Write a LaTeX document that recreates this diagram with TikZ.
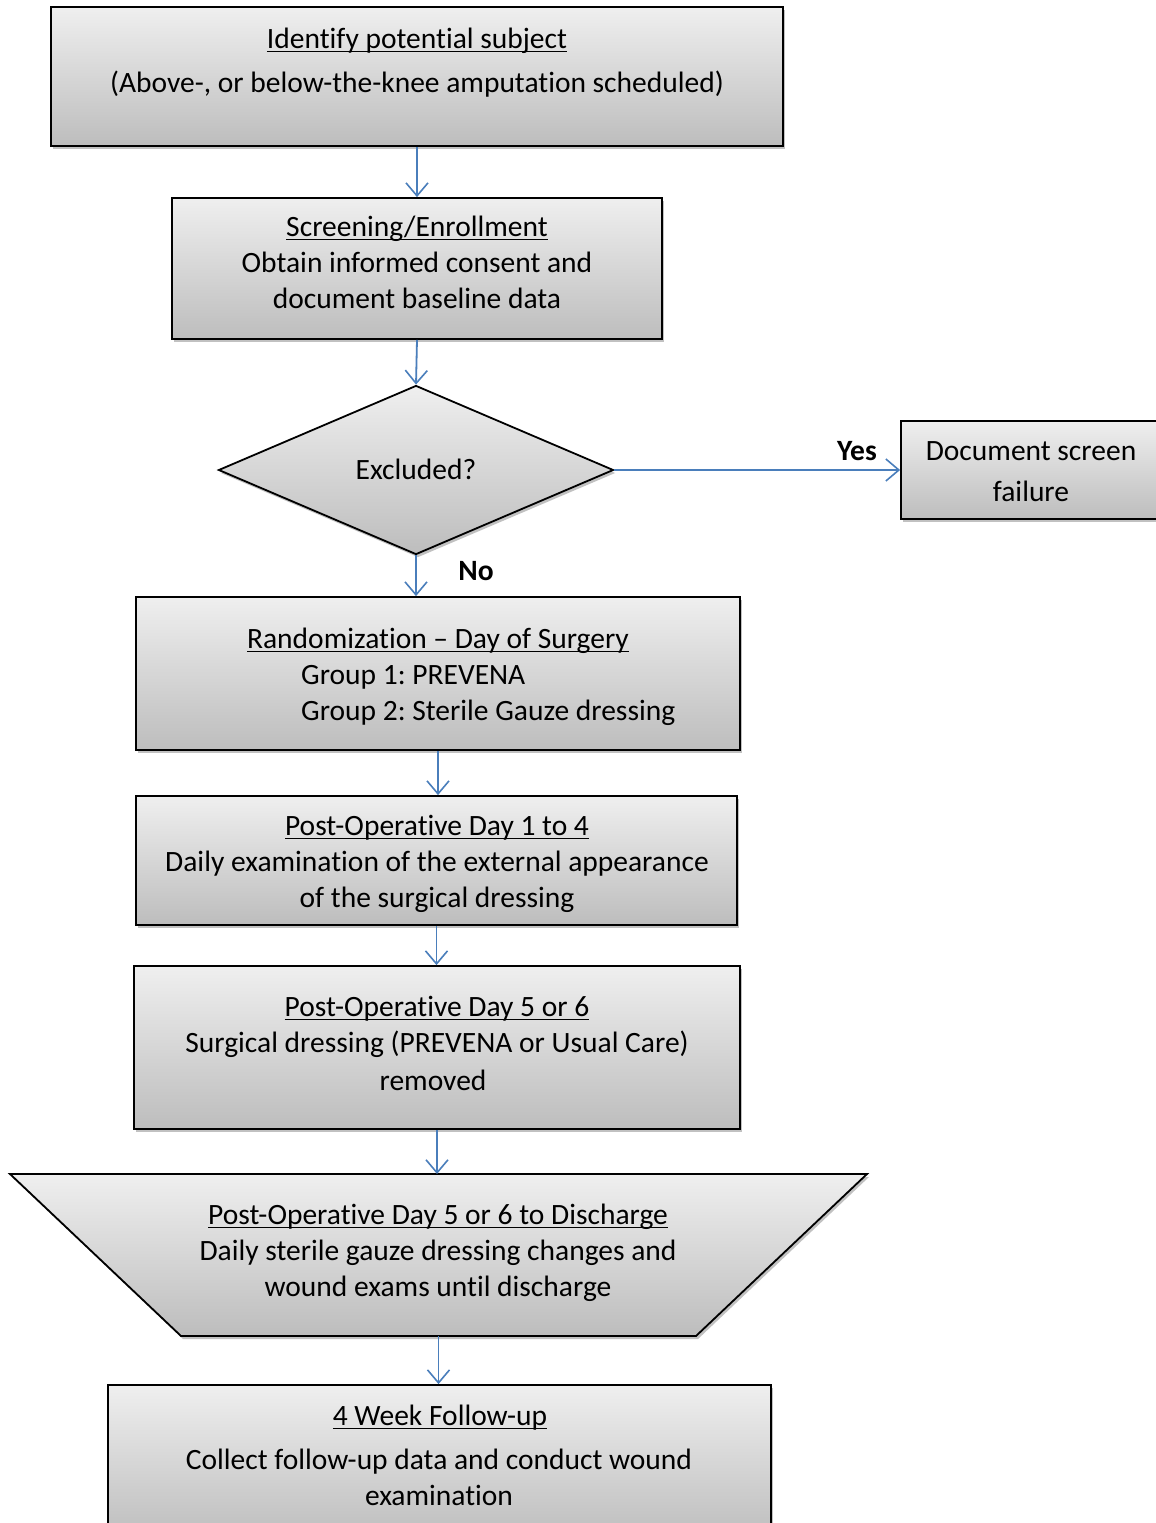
\documentclass[tikz,border=0pt]{standalone}
\usepackage{fontspec}
\setmainfont{Carlito}[Ligatures={NoCommon}]
\usetikzlibrary{shapes.geometric,arrows.meta,shadows}
\definecolor{arrowblue}{HTML}{4A7EBB}
\definecolor{shtop}{HTML}{EFEFEF}
\definecolor{shbot}{HTML}{BDBDBD}
\newcommand\myul[1]{\setbox0\hbox{#1}\rlap{\rule[-4pt]{\wd0}{1.4pt}}\box0}
\frenchspacing
\begin{document}
\begin{tikzpicture}[x=1pt,y=-1pt,
  boxshape/.style={draw=black, line width=1.8pt, top color=shtop, bottom color=shbot,
    drop shadow={shadow xshift=2pt,shadow yshift=-3pt,opacity=0.4,fill=black!60},
    inner sep=0pt, rectangle},
  txt/.style={font=\fontsize{29.5}{35}\selectfont, anchor=base, inner sep=0pt},
  txtl/.style={txt, anchor=base west},
  lbl/.style={font=\fontsize{29.5}{35}\selectfont\bfseries, inner sep=0pt},
  conn/.style={draw=arrowblue, line width=1.8pt, -{Straight Barb[length=13pt,width=22pt,line width=1.6pt]}},
  connthin/.style={conn, line width=1.5pt}]
\useasboundingbox (0,0) rectangle (1156,1523);
\fill[white] (0,0) rectangle (1156,1523);

% boxes
\node[boxshape, minimum width=732, minimum height=139] (b1) at (417,76.5) {};
\node[boxshape, minimum width=490, minimum height=141] (b2) at (417,268.5) {};
\node[boxshape, shape=diamond, minimum width=395, minimum height=169, aspect=2.34] (dia) at (416,470) {};
\node[boxshape, minimum width=260, minimum height=98] (b3) at (1031,470) {};
\node[boxshape, minimum width=604, minimum height=153] (b4) at (438,673.5) {};
\node[boxshape, minimum width=601, minimum height=129] (b5) at (436.5,860.5) {};
\node[boxshape, minimum width=606, minimum height=163] (b6) at (437,1047.5) {};
\path[draw=black, line width=1.8pt, top color=shtop, bottom color=shbot,
    drop shadow={shadow xshift=2pt,shadow yshift=-3pt,opacity=0.4,fill=black!60}]
  (10,1174) -- (867,1174) -- (696,1336) -- (181,1336) -- cycle;
\coordinate (trapN) at (438.5,1174);
\coordinate (trapS) at (438.5,1336);
\node[boxshape, minimum width=663, minimum height=155] (b7) at (439.5,1462.5) {};

% texts
\node[txt] (t1a) at (417,48) {\myul{Identify potential subject}};
\node[txt] (t1b) at (417,92) {(Above-, or below-the-knee amputation scheduled)};
\node[txt] (t2a) at (417,236) {\myul{Screening/Enrollment}};
\node[txt] (t2b) at (417,272) {Obtain informed consent and};
\node[txt] (t2c) at (417,308) {document baseline data};
\node[txt] (td) at (416,479) {Excluded?};
\node[txt] (t3a) at (1031,460) {Document screen};
\node[txt] (t3b) at (1031,501) {failure};
\node[txt] (t4a) at (438,648) {\myul{Randomization – Day of Surgery}};
\node[txtl] (t4b) at (301,684) {Group 1: PREVENA};
\node[txtl] (t4c) at (301,720) {Group 2: Sterile Gauze dressing};
\node[txt] (t5a) at (437,835) {\myul{Post-Operative Day 1 to 4}};
\node[txt] (t5b) at (437,871) {Daily examination of the external appearance};
\node[txt] (t5c) at (437,907) {of the surgical dressing};
\node[txt] (t6a) at (437,1016) {\myul{Post-Operative Day 5 or 6}};
\node[txt] (t6b) at (437,1052) {Surgical dressing (PREVENA or Usual Care)};
\node[txt] (t6c) at (433,1090) {removed};
\node[txt] (t7a) at (438,1224) {\myul{Post-Operative Day 5 or 6 to Discharge}};
\node[txt] (t7b) at (438,1260) {Daily sterile gauze dressing changes and};
\node[txt] (t7c) at (438,1296) {wound exams until discharge};
\node[txt] (t8a) at (440,1425) {\myul{4 Week Follow-up}};
\node[txt] (t8b) at (439,1469) {Collect follow-up data and conduct wound};
\node[txt] (t8c) at (439,1505) {examination};

% labels
\node[lbl] (yes) at (857,451) {Yes};
\node[lbl] (no) at (476,571) {No};

% connectors
\draw[conn] (b1.south) -- (b2.north);
\draw[conn] (b2.south) -- (dia.north);
\draw[connthin] (dia.east) -- (b3.west);
\draw[conn] (dia.south) -- (dia.south |- b4.north);
\draw[conn] (b4.south) -- (b4.south |- b5.north);
\draw[connthin] (b5.south) -- (b5.south |- b6.north);
\draw[connthin] (b6.south) -- (b6.south |- trapN);
\draw[connthin] (trapS) -- (trapS |- b7.north);
\end{tikzpicture}
\end{document}
